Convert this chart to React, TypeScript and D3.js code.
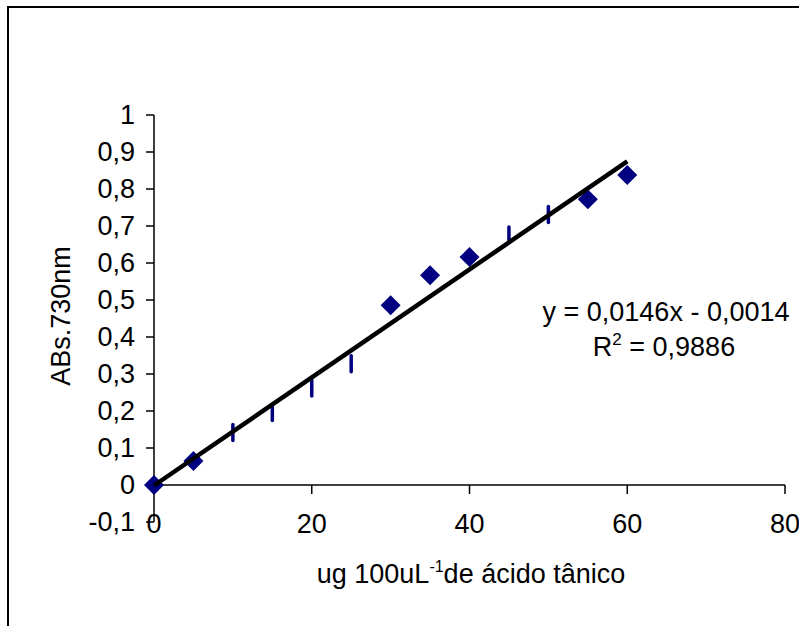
import React from "react";
import * as d3 from "d3";

const xValues = [0, 5, 10, 15, 20, 25, 30, 35, 40, 45, 50, 55, 60];
const absValues = [0, 0.065, 0.142, 0.196, 0.262, 0.328, 0.486, 0.567, 0.616, 0.676, 0.731, 0.772, 0.838];
const thinMarkerX = [10, 15, 20, 25, 45, 50];
const xTicks = [0, 20, 40, 60, 80];
const yTicks = [-0.1, 0, 0.1, 0.2, 0.3, 0.4, 0.5, 0.6, 0.7, 0.8, 0.9, 1];
const slope = 0.0146;
const intercept = -0.0014;
const eqLabel = "y = 0,0146x - 0,0014";
const r2Value = "0,9886";
const xTitle = "ug 100uL";
const xTitleSup = "-1";
const xTitleRest = "de ácido tânico";
const yTitle = "ABs.730nm";

const fmt = (v: number) => (Math.abs(v) < 1e-9 ? "0" : String(+v.toFixed(1)).replace(".", ","));

export default function App() {
  const W = 799, H = 626;
  const x = d3.scaleLinear().domain([0, 80]).range([154, 785]);
  const y = d3.scaleLinear().domain([-0.1, 1]).range([522, 115]);
  const font = "'Liberation Sans', Arial, sans-serif";
  const navy = "#000080";
  const fs = 27;
  const line = d3.line<number>().x((d) => x(d)).y((d) => y(slope * d + intercept));
  const diamond = (cx: number, cy: number, r: number) =>
    `M${cx},${cy - r}L${cx + r},${cy}L${cx},${cy + r}L${cx - r},${cy}Z`;

  return (
    <svg width={W} height={H} style={{ position: "absolute", left: 0, top: 0, background: "#fff" }} fontFamily={font}>
      <rect x={0} y={0} width={W} height={H} fill="#fff" />
      <rect x={8} y={7} width={W + 10} height={H + 10} fill="none" stroke="#000" strokeWidth={2} />
      {/* y axis */}
      <line x1={x(0)} x2={x(0)} y1={y(1)} y2={y(-0.1)} stroke="#000" strokeWidth={1.5} />
      {yTicks.map((t) => (
        <g key={"y" + t}>
          <line x1={x(0) - 8} x2={x(0)} y1={y(t)} y2={y(t)} stroke="#000" strokeWidth={1.5} />
          <text x={135} y={y(t)} dy="0.35em" textAnchor="end" fontSize={fs} fill="#000">{fmt(t)}</text>
        </g>
      ))}
      {/* x axis */}
      <line x1={x(0)} x2={x(80)} y1={y(0)} y2={y(0)} stroke="#000" strokeWidth={1.5} />
      {xTicks.map((t) => (
        <g key={"x" + t}>
          <line x1={x(t)} x2={x(t)} y1={y(0)} y2={y(0) + 9} stroke="#000" strokeWidth={1.5} />
          <text x={x(t)} y={533} textAnchor="middle" fontSize={fs} fill="#000">{t}</text>
        </g>
      ))}
      {/* markers */}
      {xValues.map((xv, i) => {
        const cx = x(xv), cy = y(absValues[i]);
        if (thinMarkerX.includes(xv)) {
          return <line key={"m" + i} x1={cx} x2={cx} y1={cy - 8} y2={cy + 8} stroke={navy} strokeWidth={3.5} strokeLinecap="round" />;
        }
        return <path key={"m" + i} d={diamond(cx, cy, 10)} fill={navy} />;
      })}
      {/* trendline */}
      <path d={line([0, 60]) || ""} fill="none" stroke="#000" strokeWidth={4.5} />
      {/* equation */}
      <text x={666} y={321} textAnchor="middle" fontSize={fs} fill="#000">{eqLabel}</text>
      <text x={664} y={356} textAnchor="middle" fontSize={fs} fill="#000">
        R<tspan fontSize={17} dy={-11}>2</tspan><tspan dy={11}>{" = " + r2Value}</tspan>
      </text>
      {/* axis titles */}
      <text x={471} y={583} textAnchor="middle" fontSize={fs} fill="#000">
        {xTitle}<tspan fontSize={16} dy={-11}>{xTitleSup}</tspan><tspan dy={11}>{xTitleRest}</tspan>
      </text>
      <text transform={`translate(70,316) rotate(-90)`} textAnchor="middle" fontSize={fs} fill="#000">{yTitle}</text>
    </svg>
  );
}
